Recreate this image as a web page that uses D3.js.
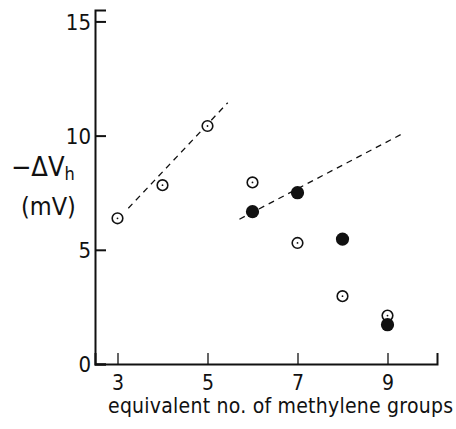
<!DOCTYPE html>
<html>
<head>
<meta charset="utf-8">
<script src="https://cdn.jsdelivr.net/npm/d3@7"></script>
<style>
  body { margin: 0; background: #fff; }
  svg { display: block; }
  text { font-family: "Liberation Sans Narrow", "DejaVu Sans Condensed", "Liberation Sans", sans-serif; fill: #111; }
</style>
</head>
<body>
<svg></svg>
<script>
// open circles (dot in centre)
let openX = [3, 4, 5, 6, 7, 8, 9]
let openY = [6.38, 7.83, 10.42, 7.95, 5.3, 2.97, 2.12]

// filled circles
let filledX = [6, 7, 8, 9]
let filledY = [6.67, 7.5, 5.47, 1.72]

// dashed fit lines, [x, y] end points
let fitShort = [[3.24, 6.82], [5.45, 11.44]]
let fitLong = [[5.71, 6.34], [9.32, 10.07]]

let xTicks = [3, 5, 7, 9]
let yTicks = [0, 5, 10, 15]

let width = 456
let height = 429

let svg = d3.select("svg")
    .attr("width", width)
    .attr("height", height)

let xScale = d3.scaleLinear()
               .domain([2.5, 10.1])
               .range([95, 437])

let yScale = d3.scaleLinear()
               .domain([0, 15.5])
               .range([364, 10])

// axes
let xAxis = svg.append("g")
   .attr("transform", "translate(0," + yScale(0) + ")")
   .call(d3.axisBottom(xScale).tickValues(xTicks).tickSize(-11).tickPadding(11).tickFormat(d3.format("d")))
xAxis.select(".domain").attr("stroke", "#111").attr("stroke-width", 2)
xAxis.selectAll(".tick line").attr("stroke", "#111").attr("stroke-width", 1.3)
xAxis.selectAll("text").style("font-size", "21px")

let yAxis = svg.append("g")
   .attr("transform", "translate(" + xScale(2.5) + ",0)")
   .call(d3.axisLeft(yScale).tickValues(yTicks).tickSize(-11).tickPadding(4).tickFormat(d3.format("d")))
yAxis.select(".domain").attr("stroke", "#111").attr("stroke-width", 2)
yAxis.selectAll(".tick line").attr("stroke", "#111").attr("stroke-width", 2)
yAxis.selectAll("text").style("font-size", "22px").attr("dy", "0.36em")

// dashed lines
let line = d3.line()
    .x((d) => xScale(d[0]))
    .y((d) => yScale(d[1]))

svg.selectAll(".fit")
   .data([fitShort, fitLong])
   .enter()
   .append("path")
   .attr("class", "fit")
   .attr("d", line)
   .attr("fill", "none")
   .attr("stroke", "#111")
   .attr("stroke-width", 1.3)
   .attr("stroke-dasharray", "6,5")

// open circles
let openPts = openX.map((x, i) => [x, openY[i]])
svg.selectAll(".open")
   .data(openPts)
   .enter()
   .append("circle")
   .attr("class", "open")
   .attr("cx", (d) => xScale(d[0]))
   .attr("cy", (d) => yScale(d[1]))
   .attr("r", 5.3)
   .attr("fill", "#fff")
   .attr("stroke", "#111")
   .attr("stroke-width", 1.6)

svg.selectAll(".dot")
   .data(openPts)
   .enter()
   .append("circle")
   .attr("class", "dot")
   .attr("cx", (d) => xScale(d[0]))
   .attr("cy", (d) => yScale(d[1]))
   .attr("r", 0.9)
   .attr("fill", "#111")

// filled circles
svg.selectAll(".filled")
   .data(filledX.map((x, i) => [x, filledY[i]]))
   .enter()
   .append("circle")
   .attr("class", "filled")
   .attr("cx", (d) => xScale(d[0]))
   .attr("cy", (d) => yScale(d[1]))
   .attr("r", 6.6)
   .attr("fill", "#111")

// axis titles
svg.append("text")
   .attr("x", 108)
   .attr("y", 413)
   .style("font-size", "21px")
   .attr("textLength", 345)
   .text("equivalent no. of methylene groups")

let yLab = svg.append("text")
   .attr("x", 11)
   .attr("y", 176)
   .style("font-size", "27px")
yLab.append("tspan").text("−ΔV")
yLab.append("tspan").attr("dy", 4).style("font-size", "18px").text("h")

svg.append("text")
   .attr("x", 21)
   .attr("y", 215)
   .style("font-size", "25px")
   .text("(mV)")
</script>
</body>
</html>
